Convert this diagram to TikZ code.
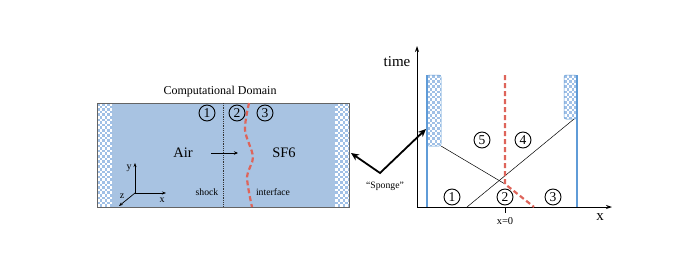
\documentclass[tikz,border=0pt]{standalone}
\usepackage{fontspec}
\setmainfont{Liberation Serif}
\usetikzlibrary{arrows.meta}
\definecolor{domfill}{RGB}{168,195,226}
\definecolor{chkblue}{RGB}{160,192,230}
\definecolor{lineblue}{RGB}{95,155,215}
\definecolor{ifred}{RGB}{222,100,90}
\definecolor{bordergray}{RGB}{100,100,100}
\newcommand\mychecks[4]{%
  \fill[white] (#1,#2) rectangle (#3,#4);
  \pgfmathtruncatemacro\mynx{ceil((#3-#1)/2.6)}%
  \pgfmathtruncatemacro\myny{ceil((#4-#2)/2.6)}%
  \foreach \i in {0,...,\mynx}{\foreach \j in {0,...,\myny}{%
    \pgfmathtruncatemacro\myodd{mod(\i+\j,2)}%
    \ifnum\myodd=0 \fill[chkblue] ({#1+\i*2.6},{#2+\j*2.6}) rectangle ++(2.6,2.6);\fi}}%
}
\tikzset{
  num/.style={circle,draw,line width=0.9pt,inner sep=0pt,minimum size=16pt,font=\fontsize{13.5}{13.5}\selectfont},
  lbl/.style={inner sep=0pt,font=\fontsize{9.7}{9.7}\selectfont},
  thinline/.style={line width=0.5pt},
  ifdash/.style={ifred,line width=2.2pt,dash pattern=on 5pt off 3pt},
}
\begin{document}
\begin{tikzpicture}[x=1pt,y=-1pt]
\useasboundingbox (0,0) rectangle (698,271);
% ---------- left domain ----------
\fill[domfill] (97,103) rectangle (349,207);
\begin{scope}\clip (97,103) rectangle (112,207); \mychecks{97}{103}{112}{207}\end{scope}
\begin{scope}\clip (335,103) rectangle (349,207); \mychecks{335}{103}{349}{207}\end{scope}
\draw[bordergray,line width=0.4pt] (97,103) rectangle (349,207);
\draw[bordergray,line width=1pt] (97,103) -- (349,103) (97,207) -- (349,207);
\node[font=\fontsize{12}{12}\selectfont] (title) at (220,92) {Computational Domain};
% shock line
\coordinate (shtop) at (223,103);
\coordinate (shbot) at (223,207);
\draw[black!80,line width=0.8pt,dash pattern=on 1pt off 0.8pt] (shtop) -- (shbot);
% interface
\draw[ifdash] plot[smooth] coordinates {(249,103) (245,130) (253,157) (247,177) (252,207)};
\node[num] (l1) at (207,113) {1};
\node[num] (l2) at (237,113) {2};
\node[num] (l3) at (265,113) {3};
\node[font=\fontsize{14.5}{14.5}\selectfont] (air) at (183,153) {Air};
\node[font=\fontsize{14.5}{14.5}\selectfont] (sf6) at (284,153) {SF6};
\coordinate (aa) at (211,153);
\coordinate (ab) at (238,153);
\draw[-{Stealth[length=4pt,width=3.5pt]},line width=0.6pt] (aa) -- (ab);
\node[lbl] (shock) at (207,192) {shock};
\node[lbl] (iface) at (273,192) {interface};
% coordinate axes
\coordinate (o) at (135,193);
\coordinate (oy) at (135,163);
\coordinate (ox) at (166,193);
\coordinate (oz) at (119,206);
\draw[-{Stealth[length=4pt,width=3pt]},line width=0.7pt] (o) -- (oy);
\draw[-{Stealth[length=4pt,width=3pt]},line width=0.7pt] (o) -- (ox);
\draw[-{Stealth[length=4pt,width=3pt]},line width=0.7pt] (o) -- (oz);
\node[lbl,font=\fontsize{10}{10}\selectfont] (ly) at (129,168) {y};
\node[lbl,font=\fontsize{10}{10}\selectfont] (lx) at (162,200) {x};
\node[lbl,font=\fontsize{10}{10}\selectfont] (lz) at (122,196) {z};
% ---------- right x-t diagram ----------
\coordinate (O) at (417,207);
\coordinate (T) at (417,46);
\coordinate (X) at (612,207);
\draw[-{Stealth[length=6pt,width=4pt]},line width=0.8pt] (O) -- (T);
\draw[-{Stealth[length=6pt,width=4pt]},line width=0.8pt] (O) -- (X);
\node[font=\fontsize{15}{15}\selectfont] (time) at (397,62) {time};
\node[font=\fontsize{15}{15}\selectfont] (xl) at (600,217) {x};
% sponge strips
\begin{scope}\clip[rounded corners=2pt] (427,75) rectangle (441,146); \mychecks{427}{75}{441}{146}\end{scope}
\draw[lineblue,line width=0.5pt,rounded corners=2pt] (427,75) rectangle (441,146);
\begin{scope}\clip[rounded corners=2pt] (564,75) rectangle (577,119); \mychecks{564}{75}{577}{119}\end{scope}
\draw[lineblue,line width=0.5pt,rounded corners=2pt] (564,75) rectangle (577,119);
\draw[lineblue,line width=1.6pt] (427,75) -- (427,207);
\draw[lineblue,line width=1.6pt] (577,75) -- (577,207);
% waves
\coordinate (P) at (505,184);
\coordinate (Lc) at (441,146);
\coordinate (Rc) at (574,119);
\coordinate (Sb) at (467,207);
\coordinate (Rtop) at (505,75);
\coordinate (Rend) at (534,207);
\draw[thinline] (Lc) -- (P);
\draw[thinline] (Sb) -- (Rc);
\draw[ifdash] (Rtop) -- (P) -- (Rend);
\coordinate (tk) at (505,213);
\draw[line width=0.8pt] (505,207) -- (tk);
\node[lbl,font=\fontsize{10.5}{10.5}\selectfont] (x0) at (505,221) {x=0};
\node[num] (r5) at (482,140) {5};
\node[num] (r4) at (523,140) {4};
\node[num] (r1) at (452,197) {1};
\node[num] (r2) at (505,197) {2};
\node[num] (r3) at (553,197) {3};
% big double arrow
\coordinate (A1) at (351,153);
\coordinate (A2) at (380,173);
\coordinate (A3) at (426,129);
\draw[{Stealth[length=8pt,width=7pt]}-{Stealth[length=8pt,width=7pt]},line width=1.8pt] (A1) -- (A2) -- (A3);
\node[lbl] (sponge) at (385,186) {``Sponge''};
\end{tikzpicture}
\end{document}
